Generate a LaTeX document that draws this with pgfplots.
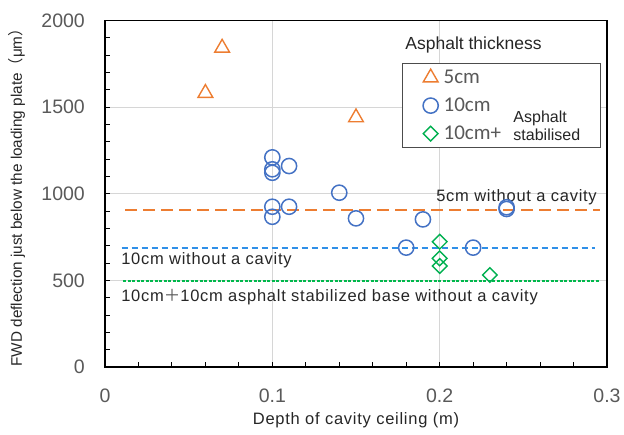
\documentclass[border=0pt]{standalone}
\usepackage{fontspec}
\setmainfont{Liberation Sans}
\newfontfamily\cjk{Noto Sans CJK JP}
\newfontfamily\legfont{Carlito}
\newfontfamily\spaced[LetterSpace=4.5]{Liberation Sans}
\usepackage{pgfplots}
\pgfplotsset{compat=1.18}
\pgfplotsset{mylegimg/.style={legend image code/.code={\path[draw=none,fill=none] (-28pt,-14pt) rectangle (13pt,14pt); \draw[##1] plot coordinates {(0pt,0pt)};}}}
\definecolor{cfive}{HTML}{ED7D31}
\definecolor{cten}{HTML}{4472C4}
\definecolor{cst}{HTML}{00B050}
\definecolor{clten}{HTML}{2E8FE8}
\definecolor{clst}{HTML}{00B84C}
\definecolor{tickgray}{HTML}{595959}
\definecolor{txt}{HTML}{262626}
\begin{document}
\begin{tikzpicture}
\begin{axis}[
  scale only axis, width=502pt, height=346.5pt,
  xmin=0, xmax=0.3, ymin=0, ymax=2000,
  xtick={0,0.1,0.2,0.3}, ytick={0,500,1000,1500,2000},
  xticklabels={0,0.1,0.2,0.3},
  yticklabels={0,500,1000,1500,2000},
  minor x tick num=4, minor y tick num=4,
  xmajorgrids, ymajorgrids,
  grid style={black!16, line width=0.9pt},
  tick align=inside, tick pos=left,
  major tick length=5pt, minor tick length=5pt,
  tick style={black, line width=1pt},
  axis line style={black, line width=1.3pt},
  ticklabel style={font=\fontsize{19.5}{22}\selectfont, text=tickgray},
  xticklabel style={anchor=base, yshift=-36pt},
  yticklabel style={anchor=east, inner sep=0pt, xshift=-20pt},
  xlabel={Depth of cavity ceiling (m)},
  ylabel={FWD deflection just below the loading plate{\cjk （}μm{\cjk ）}},
  xlabel style={at={([yshift=-53pt]rel axis cs:0.5,0)}, anchor=center,
    font=\spaced\fontsize{16.5}{18}\selectfont, text=txt},
  ylabel style={at={([xshift=-88pt]rel axis cs:0,0.5)}, anchor=center,
    font=\fontsize{15.3}{18}\selectfont, text=txt},
  legend style={at={(rel axis cs:0.592,0.877)}, anchor=north west,
    draw=black!70, line width=1pt, fill=white,
    font=\legfont\fontsize{21}{24}\selectfont, text=tickgray,
    inner sep=0pt, nodes={inner sep=0pt}, row sep=0pt, column sep=0pt},
  legend cell align=left,
  clip=false,
]
\addplot[only marks, mark=triangle, mark size=8.5pt, mark options={cfive, line width=1.4pt}, mylegimg]
  coordinates {(0.06,1581) (0.07,1842) (0.15,1440)};
\addlegendentry{\makebox[157pt][l]{5cm}}
\addplot[only marks, mark=o, mark size=7.6pt, mark options={cten, line width=1.5pt}, mylegimg]
  coordinates {(0.10,1210) (0.10,1141) (0.10,1121) (0.10,925) (0.10,867)
               (0.11,1160) (0.11,925) (0.14,1006) (0.15,858) (0.18,689)
               (0.19,852) (0.22,689) (0.24,912) (0.24,922)};
\addlegendentry{10cm}
\addplot[only marks, mark=square, mark size=5.2pt, mark options={cst, line width=1.4pt, rotate=45}, mylegimg]
  coordinates {(0.20,723) (0.20,627) (0.20,583) (0.23,531)};
\addlegendentry{10cm+}
\addplot[cfive, line width=1.8pt, dash pattern=on 12pt off 6pt, forget plot]
  coordinates {(0.012,906) (0.296,906)};
\addplot[clten, line width=1.9pt, dash pattern=on 6pt off 4pt, forget plot]
  coordinates {(0.010,689) (0.293,689)};
\addplot[clst, line width=2pt, dash pattern=on 3pt off 1.5pt, forget plot]
  coordinates {(0.011,496) (0.296,496)};
\node[anchor=east, inner sep=0pt, font=\spaced\fontsize{16.5}{18}\selectfont, text=txt]
  at (axis cs:0.294,981) {5cm without a cavity};
\node[anchor=west, inner sep=0pt, font=\spaced\fontsize{16.5}{18}\selectfont, text=txt]
  at (axis cs:0.0096,618) {10cm without a cavity};
\node[anchor=west, inner sep=0pt, font=\spaced\fontsize{16.5}{18}\selectfont, text=txt]
  at (axis cs:0.0096,404) {10cm{\cjk\color{tickgray}＋}10cm asphalt stabilized base without a cavity};
\node[anchor=west, inner sep=0pt, font=\fontsize{17.5}{20}\selectfont, text=txt]
  at (rel axis cs:0.598,0.929) {Asphalt thickness};
\coordinate (stab) at (axis cs:0.244,1391);
\end{axis}
\node[anchor=west, inner sep=0pt, align=left, font=\fontsize{16}{18}\selectfont, text=txt]
  at (stab) {Asphalt\\stabilised};
\pgfresetboundingbox
\path ([shift={(-105pt,-68pt)}]current axis.south west) rectangle ([shift={(17pt,20.5pt)}]current axis.north east);
\end{tikzpicture}
\end{document}
